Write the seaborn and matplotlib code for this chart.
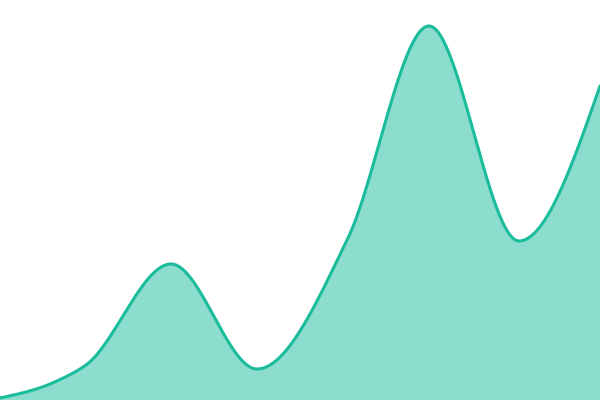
import numpy as np
import pandas as pd
import matplotlib
matplotlib.use("Agg")
import matplotlib.pyplot as plt
import seaborn as sns

# Values (x on a 0-600 domain, value on a 0-400 scale)
x_values = [0, 57, 86, 171, 257, 348, 429, 519, 600]
values = [2, 19, 35, 136, 31, 162, 374, 159, 314]

line_color = "#1abc9c"


def monotone_curve(x, y, samples=60):
    """Monotone cubic (d3 curveMonotoneX style) through the data points."""
    x = np.asarray(x, dtype=float)
    y = np.asarray(y, dtype=float)
    n = len(x)
    h = np.diff(x)
    s = np.diff(y) / h
    t = np.zeros(n)
    for i in range(1, n - 1):
        p = (s[i - 1] * h[i] + s[i] * h[i - 1]) / (h[i - 1] + h[i])
        t[i] = (np.sign(s[i - 1]) + np.sign(s[i])) * min(abs(s[i - 1]), abs(s[i]), 0.5 * abs(p))
    t[0] = (3 * s[0] - t[1]) / 2
    t[-1] = (3 * s[-1] - t[-2]) / 2
    xs, ys = [], []
    for i in range(n - 1):
        u = np.linspace(0, 1, samples, endpoint=(i == n - 2))
        h00 = 2 * u**3 - 3 * u**2 + 1
        h10 = u**3 - 2 * u**2 + u
        h01 = -2 * u**3 + 3 * u**2
        h11 = u**3 - u**2
        xs.append(x[i] + u * h[i])
        ys.append(h00 * y[i] + h10 * h[i] * t[i] + h01 * y[i + 1] + h11 * h[i] * t[i + 1])
    return np.concatenate(xs), np.concatenate(ys)


cx, cy = monotone_curve(x_values, values)
curve = pd.DataFrame({"x": cx, "y": cy})

sns.set_style("white")
fig = plt.figure(figsize=(6, 4), dpi=100)
ax = fig.add_axes([0, 0, 1, 1])

ax.fill_between(curve["x"], curve["y"], 0, color=line_color, alpha=0.5, linewidth=0)
sns.lineplot(data=curve, x="x", y="y", ax=ax, color=line_color, linewidth=2.2, sort=False)

ax.set_xlim(x_values[0], x_values[-1])
ax.set_ylim(0, 400)
ax.axis("off")

fig.savefig("out.png", dpi=100)
